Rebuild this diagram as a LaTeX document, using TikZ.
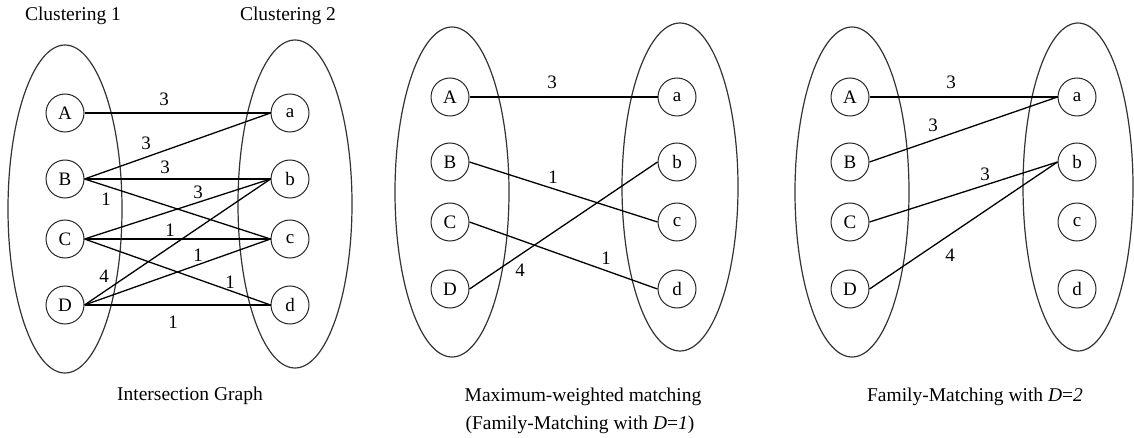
\documentclass[tikz,border=0pt]{standalone}
\usepackage{fontspec}
\setmainfont{Liberation Serif}
\begin{document}
\begin{tikzpicture}[x=1pt,y=-1pt,
  vert/.style={circle, draw=black!85, line width=1pt, minimum size=38pt, inner sep=0pt, font=\fontsize{19}{22}\selectfont},
  grp/.style={draw=black!80, line width=1.2pt},
  edge/.style={draw=black, line width=1.3pt},
  wt/.style={inner sep=0pt, font=\fontsize{19}{22}\selectfont},
  captxt/.style={inner sep=0pt, font=\fontsize{19.5}{23}\selectfont}]
\useasboundingbox (0,0) rectangle (1134,438);

% ---------- Panel 1 ----------
\node[captxt] (t1) at (73,16) {Clustering 1};
\node[captxt] (t2) at (288,16) {Clustering 2};
\draw[grp] (65,209) ellipse [x radius=57, y radius=164];
\draw[grp] (295,204) ellipse [x radius=57, y radius=164];
\node[vert] (A1) at (65,113) {A};
\node[vert] (B1) at (65,179) {B};
\node[vert] (C1) at (65,239) {C};
\node[vert] (D1) at (65,305) {D};
\node[vert] (a1) at (290,113) {a};
\node[vert] (b1) at (290,179) {b};
\node[vert] (c1) at (290,239) {c};
\node[vert] (d1) at (290,305) {d};
\draw[edge] (A1.east) -- (a1.west);
\draw[edge] (B1.east) -- (a1.west);
\draw[edge] (B1.east) -- (b1.west);
\draw[edge] (B1.east) -- (c1.west);
\draw[edge] (C1.east) -- (b1.west);
\draw[edge] (C1.east) -- (c1.west);
\draw[edge] (C1.east) -- (d1.west);
\draw[edge] (D1.east) -- (b1.west);
\draw[edge] (D1.east) -- (c1.west);
\draw[edge] (D1.east) -- (d1.west);
\node[wt] (w1) at (164,99) {3};
\node[wt] (w2) at (146,143) {3};
\node[wt] (w3) at (165,167) {3};
\node[wt] (w4) at (106,199) {1};
\node[wt] (w5) at (198,192) {3};
\node[wt] (w6) at (170,230) {1};
\node[wt] (w7) at (198,255) {1};
\node[wt] (w8) at (104,276) {4};
\node[wt] (w9) at (230,282) {1};
\node[wt] (w10) at (173,322) {1};
\node[captxt] (cap1) at (190,396) {Intersection Graph};

% ---------- Panel 2 ----------
\draw[grp] (452,192) ellipse [x radius=57, y radius=165];
\draw[grp] (680,187) ellipse [x radius=58, y radius=164];
\node[vert] (A2) at (450,97) {A};
\node[vert] (B2) at (450,162) {B};
\node[vert] (C2) at (450,222) {C};
\node[vert] (D2) at (450,289) {D};
\node[vert] (a2) at (677,97) {a};
\node[vert] (b2) at (677,162) {b};
\node[vert] (c2) at (677,222) {c};
\node[vert] (d2) at (677,289) {d};
\draw[edge] (A2.east) -- (a2.west);
\draw[edge] (B2.east) -- (c2.west);
\draw[edge] (C2.east) -- (d2.west);
\draw[edge] (D2.east) -- (b2.west);
\node[wt] (v1) at (552,82) {3};
\node[wt] (v2) at (553,177) {1};
\node[wt] (v3) at (520,270) {4};
\node[wt] (v4) at (606,258) {1};
\node[captxt] (cap2) at (583,397) {Maximum-weighted matching};
\node[captxt] (cap3) at (580,425) {(Family-Matching with \textit{D}=\textit{1})};

% ---------- Panel 3 ----------
\draw[grp] (852,192) ellipse [x radius=57, y radius=165];
\draw[grp] (1078,187) ellipse [x radius=55, y radius=164];
\node[vert] (A3) at (850,97) {A};
\node[vert] (B3) at (850,162) {B};
\node[vert] (C3) at (850,222) {C};
\node[vert] (D3) at (850,289) {D};
\node[vert] (a3) at (1077,97) {a};
\node[vert] (b3) at (1077,162) {b};
\node[vert] (c3) at (1077,222) {c};
\node[vert] (d3) at (1077,289) {d};
\draw[edge] (A3.east) -- (a3.west);
\draw[edge] (B3.east) -- (a3.west);
\draw[edge] (C3.east) -- (b3.west);
\draw[edge] (D3.east) -- (b3.west);
\node[wt] (u1) at (951,82) {3};
\node[wt] (u2) at (933,125) {3};
\node[wt] (u3) at (985,174) {3};
\node[wt] (u4) at (950,255) {4};
\node[captxt] (cap4) at (975,397) {Family-Matching with \textit{D}=\textit{2}};
\end{tikzpicture}
\end{document}
